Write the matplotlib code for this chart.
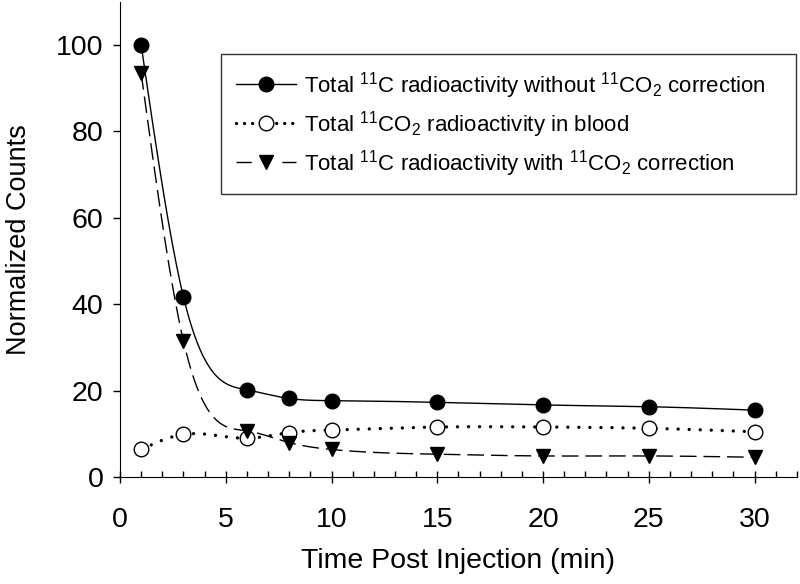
import numpy as np
import matplotlib
matplotlib.use("Agg")
import matplotlib.pyplot as plt
from matplotlib.ticker import MultipleLocator

plt.rcParams['font.family'] = ['Liberation Sans', 'DejaVu Sans']
plt.rcParams['mathtext.fontset'] = 'custom'
plt.rcParams['mathtext.rm'] = 'Liberation Sans'
plt.rcParams['mathtext.default'] = 'regular'

# time points (min)
t = [1, 3, 6, 8, 10, 15, 20, 25, 30]

# normalized counts
total_no_corr = [100, 41.7, 20.2, 18.2, 17.7, 17.3, 16.7, 16.3, 15.5]
co2_blood = [6.4, 9.9, 9.0, 10.3, 10.9, 11.6, 11.6, 11.3, 10.5]
total_corr = [93.5, 31.5, 10.7, 8.0, 6.4, 5.3, 4.9, 4.9, 4.6]

labels = [r'Total $^{11}$C radioactivity without $^{11}$CO$_2$ correction',
          r'Total $^{11}$CO$_2$ radioactivity in blood',
          r'Total $^{11}$C radioactivity with $^{11}$CO$_2$ correction']


# natural cubic spline through the points, only used to draw the line
def spline(x, y, n=50):
    x = np.asarray(x, float)
    y = np.asarray(y, float)
    k = len(x)
    h = np.diff(x)
    A = np.zeros((k, k))
    b = np.zeros(k)
    A[0, 0] = A[-1, -1] = 1
    for i in range(1, k - 1):
        A[i, i - 1] = h[i - 1]
        A[i, i] = 2 * (h[i - 1] + h[i])
        A[i, i + 1] = h[i]
        b[i] = 6 * ((y[i + 1] - y[i]) / h[i] - (y[i] - y[i - 1]) / h[i - 1])
    M = np.linalg.solve(A, b)
    xs, ys = [], []
    for i in range(k - 1):
        xx = np.linspace(x[i], x[i + 1], n)
        a = x[i + 1] - xx
        c = xx - x[i]
        yy = (M[i] * a**3 + M[i + 1] * c**3) / (6 * h[i]) \
            + (y[i] / h[i] - M[i] * h[i] / 6) * a + (y[i + 1] / h[i] - M[i + 1] * h[i] / 6) * c
        xs.append(xx)
        ys.append(yy)
    return np.concatenate(xs), np.concatenate(ys)


dots = (0, (0.01, 3.3))

fig = plt.figure(figsize=(8, 5.84), dpi=100)
ax = fig.add_axes([0.15, 0.183, 0.846, 0.814])

xs, ys = spline(t, total_no_corr)
ax.plot(xs, ys, color='black', lw=1)
ax.plot(t, total_no_corr, 'o', color='black', ms=10.5)

xs, ys = spline(t, co2_blood)
ax.plot(xs, ys, color='black', lw=2.4, linestyle=dots, dash_capstyle='round')
ax.plot(t, co2_blood, 'o', mfc='white', mec='black', mew=1, ms=10.5)

xs, ys = spline(t, total_corr)
ax.plot(xs, ys, color='black', lw=1, linestyle=(0, (12, 5)))
ax.plot(t, total_corr, 'v', color='black', ms=10.5)

# legend proxies
h1, = ax.plot([], [], '-o', color='black', lw=1, ms=10.5)
h2, = ax.plot([], [], 'o', mfc='white', mec='black', ms=10.5, color='black',
              lw=2.4, linestyle=(0, (0.01, 2.4)), dash_capstyle='round')
h3, = ax.plot([], [], 'v', color='black', ms=10.5, lw=1, linestyle=(0, (11, 22)))
leg = ax.legend([h1, h2, h3], labels, loc='upper left', mode='expand',
                bbox_to_anchor=(0.276, 0.907, 0.719, 0.0), bbox_transform=fig.transFigure,
                fontsize=16, frameon=True, fancybox=False, edgecolor='black',
                handlelength=2.7, labelspacing=0.36, borderpad=0.7, handletextpad=0.35,
                borderaxespad=0)
leg.get_frame().set_linewidth(1)

ax.set_xlim(0, 32)
ax.set_ylim(0, 110)
ax.spines['top'].set_visible(False)
ax.spines['right'].set_visible(False)
ax.xaxis.set_major_locator(MultipleLocator(5))
ax.xaxis.set_minor_locator(MultipleLocator(1))
ax.yaxis.set_major_locator(MultipleLocator(20))
ax.tick_params(axis='x', which='major', direction='inout', length=9, width=1, labelsize=20.5, pad=17)
ax.tick_params(axis='x', which='minor', direction='in', length=4, width=1)
ax.tick_params(axis='y', which='major', direction='out', length=5, width=1, labelsize=20.5, pad=7)
ax.set_xticks(range(0, 31, 5))

ax.set_xlabel('Time Post Injection (min)', fontsize=20.5)
ax.set_ylabel('Normalized Counts', fontsize=19.5)
ax.xaxis.set_label_coords(0.5, -0.149)
ax.yaxis.set_label_coords(-0.13, 0.5)

fig.savefig('out.png', dpi=100)
